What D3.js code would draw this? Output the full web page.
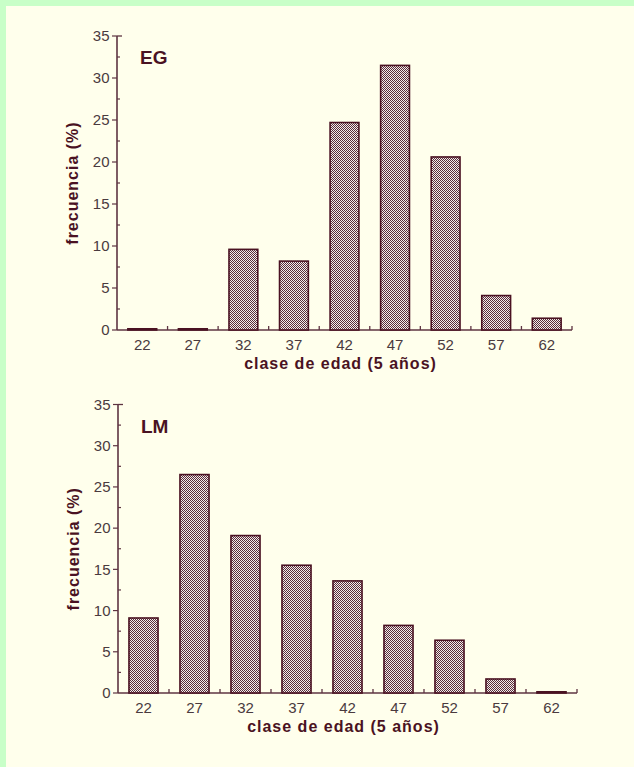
<!DOCTYPE html>
<html><head><meta charset="utf-8">
<script src="https://cdn.jsdelivr.net/npm/d3@7"></script>
<style>
html,body{margin:0;padding:0;background:#c8ffc8;}
svg{display:block;}
</style></head>
<body>
<script>
const categories = ["22","27","32","37","42","47","52","57","62"];
const egValues = [0, 0, 9.6, 8.2, 24.7, 31.5, 20.6, 4.1, 1.4];
const lmValues = [9.1, 26.5, 19.1, 15.5, 13.6, 8.2, 6.4, 1.7, 0];
const yTicks = [0, 5, 10, 15, 20, 25, 30, 35];
const yMinorTicks = [2.5, 7.5, 12.5, 17.5, 22.5, 27.5, 32.5];
const panelLabels = ["EG", "LM"];
const xTitle = "clase de edad (5 años)";
const yTitle = "frecuencia (%)";

const W = 634, H = 767;
const maroon = "#4a1222";
const axisCol = "#5e3442";
const tickTextCol = "#4a3a3e";

const svg = d3.select("body").append("svg").attr("width", W).attr("height", H);
const defs = svg.append("defs");
const pat = defs.append("pattern").attr("id","chk").attr("patternUnits","userSpaceOnUse")
  .attr("width",2).attr("height",2);
pat.append("rect").attr("width",2).attr("height",2).attr("fill","#f2eeec");
pat.append("rect").attr("width",1).attr("height",1).attr("fill","#5a2c3a");
pat.append("rect").attr("x",1).attr("y",1).attr("width",1).attr("height",1).attr("fill","#5a2c3a");

svg.append("rect").attr("x",6).attr("y",6).attr("width",W-6).attr("height",H-6).attr("fill","#ffffec");

function drawChart(values, label, x0, x1, y0, y1) {
  const g = svg.append("g");
  const x = d3.scaleBand().domain(categories).range([x0, x1]).paddingInner(0.43).paddingOuter(0.215);
  const xb = d3.scaleBand().domain(categories).range([x0, x1]);
  const y = d3.scaleLinear().domain([0, 35]).range([y0, y1]);

  // x axis line
  g.append("line").attr("x1", x0).attr("x2", x1).attr("y1", y0).attr("y2", y0)
    .attr("stroke", axisCol).attr("stroke-width", 1.6);

  // bars
  g.selectAll("rect.bar").data(values).join("rect")
    .attr("x", (d,i) => x(categories[i]))
    .attr("width", x.bandwidth())
    .attr("y", d => Math.min(y(d), y(0) - 1.2))
    .attr("height", d => Math.max(1.2, y(0) - y(d)))
    .attr("fill", "url(#chk)")
    .attr("stroke", maroon).attr("stroke-width", 1.6);

  // x boundary ticks (upward)
  const bounds = categories.slice(1).map(c => xb(c)).concat([x1]);
  g.selectAll("line.xt").data(bounds).join("line")
    .attr("x1", d => d).attr("x2", d => d).attr("y1", y0).attr("y2", y0 - 4)
    .attr("stroke", axisCol).attr("stroke-width", 1.3);
  // x tick labels
  g.selectAll("text.xl").data(categories).join("text")
    .attr("x", d => xb(d) + xb.bandwidth()/2).attr("y", y0 + 19.5)
    .attr("text-anchor","middle").attr("font-family","Liberation Sans, Arial, sans-serif")
    .attr("font-size", 15).attr("fill", tickTextCol).text(d => d);

  // y axis line
  g.append("line").attr("x1", x0).attr("x2", x0).attr("y1", y0).attr("y2", y(35))
    .attr("stroke", axisCol).attr("stroke-width", 1.6);
  // major ticks (outward)
  g.selectAll("line.yt").data(yTicks).join("line")
    .attr("x1", x0 - 5).attr("x2", x0).attr("y1", d => y(d)).attr("y2", d => y(d))
    .attr("stroke", axisCol).attr("stroke-width", 1.2);
  // top cap
  g.append("line").attr("x1", x0).attr("x2", x0 + 5).attr("y1", y(35)).attr("y2", y(35))
    .attr("stroke", axisCol).attr("stroke-width", 1.3);
  // minor ticks (inward)
  g.selectAll("line.ym").data(yMinorTicks).join("line")
    .attr("x1", x0).attr("x2", x0 + 3).attr("y1", d => y(d)).attr("y2", d => y(d))
    .attr("stroke", axisCol).attr("stroke-width", 1.2);
  // y tick labels
  g.selectAll("text.yl").data(yTicks).join("text")
    .attr("x", x0 - 7.5).attr("y", d => y(d) + 5.2)
    .attr("text-anchor","end").attr("font-family","Liberation Sans, Arial, sans-serif")
    .attr("font-size", 15).attr("fill", tickTextCol).text(d => d);

  // panel label
  g.append("text").attr("x", x0 + 23).attr("y", y(35) + 28)
    .attr("font-family","Liberation Sans, Arial, sans-serif").attr("font-weight","bold")
    .attr("font-size", 19).attr("fill", maroon).text(label);

  // x title
  g.append("text").attr("x", (x0 + x1)/2 - 4).attr("y", y0 + 38.5)
    .attr("text-anchor","middle").attr("font-family","Liberation Sans, Arial, sans-serif")
    .attr("font-weight","bold").attr("font-size", 16).attr("letter-spacing", 1)
    .attr("fill", maroon).text(xTitle);

  // y title
  const cy = (y0 + y(35))/2;
  g.append("text").attr("transform", `translate(${x0 - 39},${cy}) rotate(-90)`)
    .attr("text-anchor","middle").attr("font-family","Liberation Sans, Arial, sans-serif")
    .attr("font-weight","bold").attr("font-size", 16).attr("letter-spacing", 1)
    .attr("fill", maroon).text(yTitle);
}

drawChart(egValues, panelLabels[0], 117, 572, 330, 36);
drawChart(lmValues, panelLabels[1], 118, 577, 693, 404.5);
</script>
</body></html>
